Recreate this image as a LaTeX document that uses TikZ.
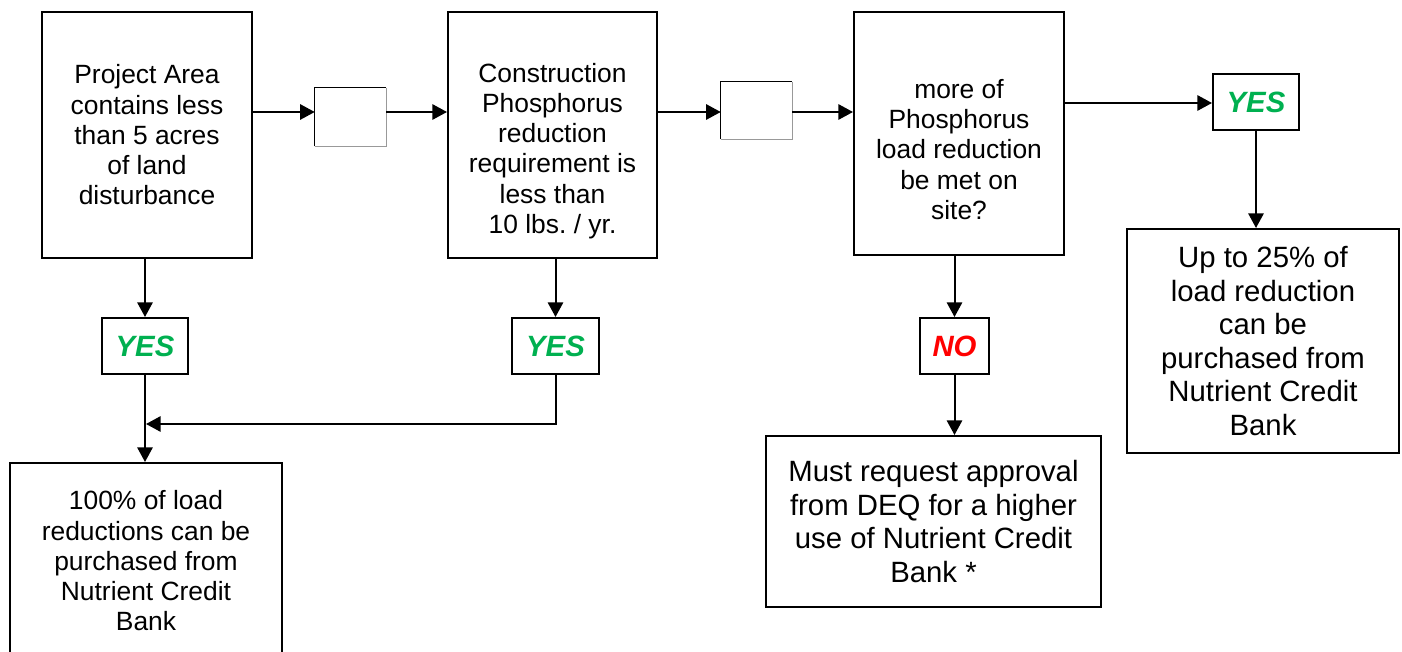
\documentclass[tikz,border=0pt]{standalone}
\usepackage{fontspec}
\setmainfont{Liberation Sans}
\usetikzlibrary{arrows.meta}
\newlength\pxl \setlength\pxl{0.75pt}
\definecolor{yesgreen}{RGB}{0,176,80}
\definecolor{nored}{RGB}{255,0,0}
\frenchspacing
\begin{document}
\begin{tikzpicture}[x=0.75pt,y=-0.75pt,
  box/.style 2 args={draw, line width=1.5pt, minimum width=#1\pxl, minimum height=#2\pxl, inner sep=0pt, align=center},
  txt/.style={font=\fontsize{19.8}{22.7}\selectfont, align=center, inner sep=0pt},
  bigtxt/.style={font=\fontsize{22}{25.1}\selectfont},
  ans/.style={font=\fontsize{22}{24}\selectfont\bfseries\itshape},
  arr/.style={line width=1.5pt, -{Triangle[length=11pt,width=11.5pt]}},
  blank/.style 2 args={minimum width=#1\pxl, minimum height=#2\pxl, inner sep=0pt}]
\useasboundingbox (0,0) rectangle (1402,652);
% main boxes
\node[box={210}{246}, txt] (b1) at (147,135) {Project Area\\contains less\\than 5 acres\\of land\\disturbance};
\node[box={209}{246}] (b2) at (552.5,135) {};
\node[txt] (b2t) at (552.5,151) {Construction\\Phosphorus\\reduction\\requirement is\\less than\\10 lbs.\ / yr.};
\node[box={210}{243}] (b3) at (959,133.5) {};
\node[txt] (b3t) at (959,149.5) {more of\\Phosphorus\\load reduction\\be met on\\site?};
\node[box={272}{224}, bigtxt] (b4) at (1263,341) {Up to 25\% of\\load reduction\\can be\\purchased from\\Nutrient Credit\\Bank};
\node[box={272}{196}, txt] (bl) at (146,561) {100\% of load\\reductions can be\\purchased from\\Nutrient Credit\\Bank};
\node[box={335}{171}, bigtxt] (b5) at (933.5,521.5) {Must request approval\\from DEQ for a higher\\use of Nutrient Credit\\Bank *};
% answer boxes
\node[box={86}{56}, ans, text=yesgreen] (y1) at (145,346) {YES};
\node[box={87}{56}, ans, text=yesgreen] (y2) at (555.5,346) {YES};
\node[box={86}{56}, ans, text=yesgreen] (y3) at (1256,102) {YES};
\node[box={69}{56}, ans, text=nored] (no) at (954.5,346) {NO};
% small empty boxes
\node[blank={71}{58}] (s1) at (350.5,117) {};
\draw[line width=0.8pt] (s1.south west) -- (s1.north west) -- (s1.north east);
\draw[line width=0.8pt, black!40] (s1.north east) -- (s1.south east) -- (s1.south west);
\node[blank={71}{57}] (s2) at (756.5,110.5) {};
\draw[line width=0.8pt] (s2.south west) -- (s2.north west) -- (s2.north east);
\draw[line width=0.8pt, black!40] (s2.north east) -- (s2.south east) -- (s2.south west);
% helper coordinates
\coordinate (r1) at (0,112);
\coordinate (r3) at (0,103);
\coordinate (j) at (146,424);
% connectors
\draw[arr] (b1.east |- r1) -- (s1.west |- r1);
\draw[arr] (s1.east |- r1) -- (b2.west |- r1);
\draw[arr] (b2.east |- r1) -- (s2.west |- r1);
\draw[arr] (s2.east |- r1) -- (b3.west |- r1);
\draw[arr] (b3.east |- r3) -- (y3.west |- r3);
\draw[arr] (y3.south) -- (y3.south |- b4.north);
\draw[arr] (y1.north |- b1.south) -- (y1.north);
\draw[arr] (y1.south) -- (y1.south |- bl.north);
\draw[arr] (y2.north |- b2.south) -- (y2.north);
\draw[arr] (y2.south) |- (j);
\draw[arr] (no.north |- b3.south) -- (no.north);
\draw[arr] (no.south) -- (no.south |- b5.north);
\end{tikzpicture}
\end{document}
